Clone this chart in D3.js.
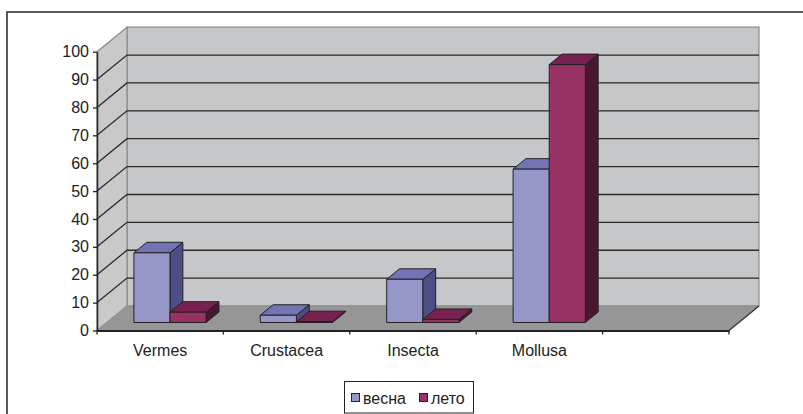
<!DOCTYPE html>
<html>
<head>
<meta charset="utf-8">
<script src="https://cdn.jsdelivr.net/npm/d3@7/dist/d3.min.js"></script>
<style>
html,body{margin:0;padding:0;background:#fff;}
svg{display:block;font-family:"Liberation Sans",Arial,sans-serif;}
</style>
</head>
<body>
<svg id="chart" width="803" height="414"></svg>
<script>
const categories = ["Vermes", "Crustacea", "Insecta", "Mollusa", ""];
const seriesNames = ["весна", "лето"];
const vesna = [25, 2.6, 15.5, 55];
const leto = [3.7, 0.3, 1.1, 92.5];
const yTicks = [0, 10, 20, 30, 40, 50, 60, 70, 80, 90, 100];

const colors = [
  {front: "#9696c8", top: "#7373b5", side: "#4e4e86"},
  {front: "#983264", top: "#76214f", side: "#4a1730"}
];

const svg = d3.select("#chart");
const X0 = 97, X1 = 729;
const DX = 30, DY = -24.5;          // wall depth offset
const d0 = 0.327, d1 = 0.755;       // bar depth fractions

const x = d3.scaleBand().domain(categories).range([X0, X1]).paddingInner(0).paddingOuter(0);
const y = d3.scaleLinear().domain([0, 100]).range([330.5, 51.7]);

// outer border
svg.append("rect").attr("x", 7).attr("y", 12).attr("width", 820).attr("height", 420)
  .attr("fill", "none").attr("stroke", "#222").attr("stroke-width", 1.5);

const line = d3.line();
const poly = pts => "M" + pts.map(p => p.join(",")).join("L") + "Z";

// back wall
svg.append("path").attr("d", poly([[X0+DX, y(100)+DY],[X1+DX, y(100)+DY],[X1+DX, y(0)+DY],[X0+DX, y(0)+DY]]))
  .attr("fill", "#c6c7c9").attr("stroke", "#8a8a8a").attr("stroke-width", 1.2);
// side wall
svg.append("path").attr("d", poly([[X0, y(100)],[X0+DX, y(100)+DY],[X0+DX, y(0)+DY],[X0, y(0)]]))
  .attr("fill", "#c9c9cb").attr("stroke", "#8a8a8a").attr("stroke-width", 1.2);
// floor
svg.append("path").attr("d", poly([[X0, y(0)],[X1, y(0)],[X1+DX, y(0)+DY],[X0+DX, y(0)+DY]]))
  .attr("fill", "#969698").attr("stroke", "none");
svg.append("path").attr("d", line([[X0+DX, y(0)+DY],[X1+DX, y(0)+DY]]))
  .attr("stroke", "#8a8a8a").attr("stroke-width", 1.2).attr("fill", "none");
svg.append("path").attr("d", line([[X1, y(0)],[X1+DX, y(0)+DY]]))
  .attr("stroke", "#333").attr("stroke-width", 1.3).attr("fill", "none");

// gridlines
const gTicks = yTicks.filter(t => t > 0 && t < 100);
svg.append("g").selectAll("path").data(gTicks).join("path")
  .attr("d", t => line([[X0, y(t)],[X0+DX, y(t)+DY],[X1+DX, y(t)+DY]]))
  .attr("fill", "none").attr("stroke", "#2a2a2a").attr("stroke-width", 1.3);

// bars
const bw = x.step();
const w = bw / 3.5;
const gap = 0.75 * w;
const ox = d0 * DX, oy = d0 * DY;
const ddx = (d1 - d0) * DX, ddy = (d1 - d0) * DY;
const barData = [];
categories.slice(0, 4).forEach((c, i) => {
  [vesna[i], leto[i]].forEach((v, j) => barData.push({c, j, v}));
});
const bars = svg.append("g").selectAll("g").data(barData).join("g");
bars.each(function(d) {
  const g = d3.select(this);
  const xl = x(d.c) + gap + d.j * w + ox;
  const xr = xl + w;
  const yb = y(0) + oy;
  const yt = y(d.v) + oy;
  const col = colors[d.j];
  g.append("path").attr("d", poly([[xr, yt],[xr+ddx, yt+ddy],[xr+ddx, yb+ddy],[xr, yb]]))
    .attr("fill", col.side).attr("stroke", "#222").attr("stroke-width", 1).attr("stroke-linejoin", "round");
  g.append("path").attr("d", poly([[xl, yt],[xl+ddx, yt+ddy],[xr+ddx, yt+ddy],[xr, yt]]))
    .attr("fill", col.top).attr("stroke", "#222").attr("stroke-width", 1).attr("stroke-linejoin", "round");
  g.append("path").attr("d", poly([[xl, yt],[xr, yt],[xr, yb],[xl, yb]]))
    .attr("fill", col.front).attr("stroke", "#222").attr("stroke-width", 1).attr("stroke-linejoin", "round");
});

// y axis
const yAxis = svg.append("g").attr("transform", `translate(${X0},0)`)
  .call(d3.axisLeft(y).tickValues(yTicks).tickSize(4).tickSizeOuter(0).tickPadding(4));
yAxis.select(".domain").attr("stroke", "#222").attr("stroke-width", 1.5);
yAxis.selectAll(".tick line").attr("stroke", "#222").attr("stroke-width", 1.3);
yAxis.selectAll(".tick text").attr("font-size", 16).attr("fill", "#222")
  .attr("font-family", '"Liberation Sans",Arial,sans-serif');

// x axis: category labels
const xAxis = svg.append("g").attr("transform", `translate(0,${y(0)})`)
  .call(d3.axisBottom(x).tickSize(0).tickPadding(14));
xAxis.select(".domain").attr("stroke", "#222").attr("stroke-width", 2);
xAxis.selectAll(".tick text").attr("font-size", 16).attr("fill", "#222")
  .attr("font-family", '"Liberation Sans",Arial,sans-serif');
// boundary ticks
const bounds = d3.range(categories.length + 1).map(i => X0 + i * bw);
svg.append("g").selectAll("line").data(bounds).join("line")
  .attr("x1", d => d).attr("x2", d => d).attr("y1", y(0)).attr("y2", y(0) + 4)
  .attr("stroke", "#222").attr("stroke-width", 1.3);

// legend
const lg = svg.append("g");
lg.append("rect").attr("x", 344.5).attr("y", 381.5).attr("width", 129).attr("height", 31.5)
  .attr("fill", "#fff").attr("stroke", "#222").attr("stroke-width", 1);
const items = [{x: 351, tx: 363}, {x: 419, tx: 431}];
seriesNames.forEach((n, i) => {
  lg.append("rect").attr("x", items[i].x + 0.5).attr("y", 393.5).attr("width", 8).attr("height", 8)
    .attr("fill", colors[i].front).attr("stroke", "#222").attr("stroke-width", 1);
  lg.append("text").attr("x", items[i].tx).attr("y", 403.5).attr("font-size", 16).attr("fill", "#222")
    .text(n);
});
</script>
</body>
</html>
